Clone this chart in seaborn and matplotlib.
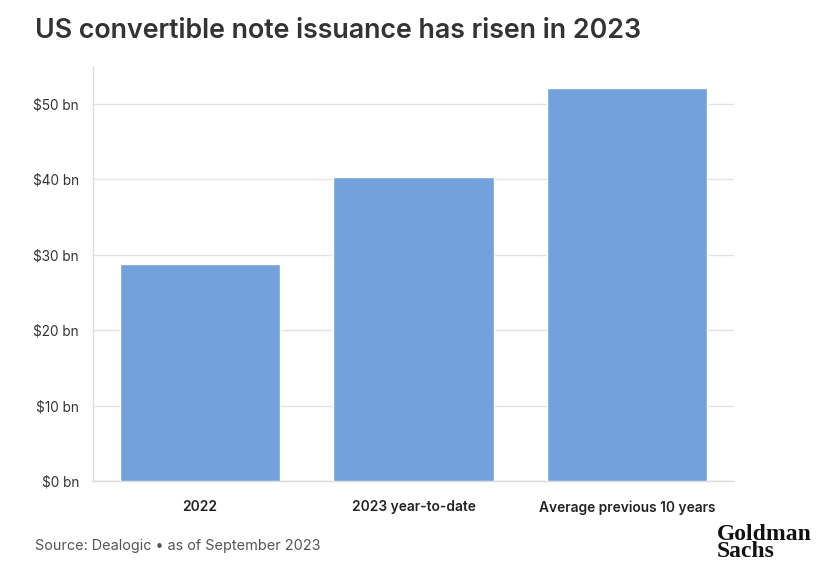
import matplotlib
matplotlib.use("Agg")
import matplotlib.pyplot as plt
import seaborn as sns
import pandas as pd

categories = ["2022", "2023 year-to-date", "Average previous 10 years"]
values = [28.8, 40.3, 52.1]
yticks = [0, 10, 20, 30, 40, 50]
ytick_labels = ["$0 bn", "$10 bn", "$20 bn", "$30 bn", "$40 bn", "$50 bn"]

sns.set_theme(style="white")
plt.rcParams['font.family'] = ['Inter', 'DejaVu Sans']

df = pd.DataFrame({"category": categories, "value": values})

fig = plt.figure(figsize=(8.32, 5.73), dpi=100)
ax = fig.add_axes([93/832, 1 - 481/573, (734-93)/832, (481-67)/573])

sns.barplot(data=df, x="category", y="value", color="#72a1db", saturation=1,
            width=0.75, ax=ax, zorder=3)

ax.set_ylim(0, 54.9)
ax.set_xlim(-0.5, 2.5)
ax.set_yticks(yticks)
ax.set_yticklabels(ytick_labels, fontsize=9.8, color="#333333")
ax.set_xlabel("")
ax.set_ylabel("")
for lbl in ax.get_xticklabels():
    lbl.set_fontsize(9.9)
    lbl.set_fontweight("semibold")
    lbl.set_color("#222222")
ax.grid(axis="y", color="#e3e3e3", linewidth=1, zorder=0)
ax.grid(axis="x", visible=False)
for s in ["top", "right"]:
    ax.spines[s].set_visible(False)
for s in ["left", "bottom"]:
    ax.spines[s].set_color("#dddddd")
    ax.spines[s].set_linewidth(1)
ax.tick_params(axis="both", which="both", length=6, width=1, color="#dddddd", pad=4)
ax.tick_params(axis="x", pad=8)

fig.text(35/832, 1 - 31/573, "US convertible note issuance has risen in 2023",
         fontsize=19.3, fontweight="semibold", color="#333333", va="center", ha="left")
fig.text(35/832, 1 - 546/573, "Source: Dealogic \u2022 as of September 2023",
         fontsize=10.4, color="#555555", va="center", ha="left")
fig.text(717/832, 1 - 543/573, "Goldman\nSachs", fontsize=17, fontweight="bold",
         family=["Liberation Serif", "DejaVu Serif"], color="#111111",
         va="center", ha="left", linespacing=0.8)

fig.savefig("out.png", dpi=100)
